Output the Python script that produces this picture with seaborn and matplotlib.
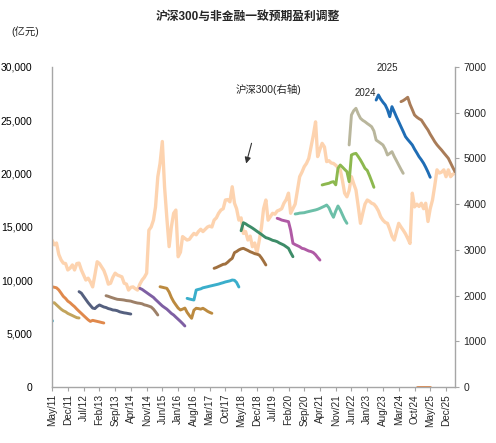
import numpy as np
import pandas as pd
import matplotlib
matplotlib.use('Agg')
import matplotlib.pyplot as plt
import matplotlib.dates as mdates
import seaborn as sns

sns.set_theme(style='white')
plt.rcParams['font.family'] = ['Liberation Sans', 'Noto Sans CJK SC', 'DejaVu Sans']

# 沪深300 monthly level, starting May 2011 (right axis)
hs300_start = '2011-05-01'
hs300 = [
    3215, 3110, 3150, 2900, 2780, 2710, 2700, 2560,                          # 2011
    2600, 2670, 2560, 2700, 2710, 2560, 2450, 2340, 2380, 2300, 2190, 2450,  # 2012
    2740, 2700, 2630, 2550, 2420, 2250, 2270, 2400, 2490, 2450, 2430, 2410,  # 2013
    2270, 2250, 2120, 2180, 2190, 2150, 2120, 2250, 2340, 2400, 2490, 3430,  # 2014
    3500, 3650, 3940, 4600, 4890, 5370, 4380, 3700, 3070, 3500, 3800, 3870,  # 2015
    2850, 2950, 3290, 3250, 3215, 3230, 3300, 3360, 3330, 3400, 3450, 3400,  # 2016
    3450, 3500, 3520, 3500, 3650, 3700, 3800, 3870, 3900, 4090, 4100, 4050,  # 2017
    4380, 4020, 3900, 3650, 3700, 3360, 3400, 3215, 3300, 3070, 3150, 2925,  # 2018
    3200, 3500, 3900, 4090, 3650, 3725, 3800, 3780, 3850, 3870, 3900, 4020,  # 2019
    4100, 4240, 3800, 3900, 4000, 4300, 4600, 4700, 4820, 4890, 5000, 5250,  # 2020
    5500, 5800, 5040, 5200, 5330, 5250, 4930, 4950, 4900, 4890, 4850, 4800,  # 2021
    4750, 4500, 4240, 4160, 4300, 4600, 4450, 4310, 3950, 3580, 3800, 4000,  # 2022
    4090, 4060, 4020, 4000, 3940, 3850, 3725, 3650, 3600, 3580, 3450, 3300,  # 2023
    3215, 3400, 3580, 3500, 3430, 3350, 3250, 3140, 4240, 3940, 4000, 3950,  # 2024
    4020, 3900, 4020, 3620, 3900, 4090, 4400, 4750, 4680, 4700, 4750, 4600,  # 2025
    4750, 4600, 4650, 4680,                                                  # 2026
]

# 非金融一致预期盈利 (亿元) by forecast year: first month and monthly values
eps_2010_start, eps_2010 = '2011-05-01', [6250, 6190]
eps_2011_start = '2011-05-01'
eps_2011 = [7875, 7900, 7700, 7500, 7300, 7150, 7050, 6900, 6800, 6700, 6600, 6500, 6470]
eps_2012_start = '2011-05-01'
eps_2012 = [9400, 9350, 9300, 9100, 8800, 8500, 8300, 8050, 7900, 7700, 7530, 7300,
            7100, 6900, 6700, 6500, 6300, 6150, 6250, 6200, 6150, 6100, 6050, 6000]
eps_2013_start = '2012-05-01'
eps_2013 = [8940, 8800, 8500, 8200, 7900, 7650, 7400, 7350, 7550, 7690, 7600, 7500,
            7450, 7350, 7300, 7220, 7200, 7150, 7050, 7000, 6950, 6920, 6880, 6840]
eps_2014_start = '2013-05-01'
eps_2014 = [8560, 8500, 8420, 8350, 8280, 8220, 8200, 8180, 8150, 8100, 8080, 8050,
            7980, 7920, 7870, 7845, 7800, 7700, 7650, 7580, 7500, 7300, 7050, 6750]
eps_2015_start = '2014-08-01'
eps_2015 = [9250, 9150, 9000, 8850, 8700, 8550, 8400, 8200, 8000, 7800, 7600, 7450,
            7300, 7100, 6900, 6750, 6550, 6350, 6150, 5950, 5720]
eps_2016_start = '2015-05-01'
eps_2016 = [9400, 9350, 9300, 9250, 8900, 8400, 8000, 7700, 7400, 7220, 7300, 7400,
            7000, 6700, 6440, 7200, 7380, 7350, 7300, 7380, 7250, 7100, 7000, 6910]
eps_2017_start = '2016-05-01'
eps_2017 = [8310, 8250, 8200, 8156, 9090, 9150, 9200, 9300, 9350, 9400, 9450, 9500,
            9550, 9600, 9650, 9720, 9780, 9850, 9900, 9950, 10030, 10000, 9800, 9375]
eps_2018_start = '2017-05-01'
eps_2018 = [11125, 11200, 11300, 11400, 11500, 11530, 11700, 11900, 12060, 12600, 12700, 12850,
            12950, 13000, 12900, 12800, 12680, 12600, 12500, 12450, 12375, 12100, 11800, 11440]
eps_2019_start = '2018-05-01'
eps_2019 = [14650, 15400, 15300, 15150, 15030, 14900, 14750, 14600, 14450, 14300, 14150, 14000,
            13940, 13850, 13750, 13700, 13625, 13500, 13400, 13300, 13150, 13000, 12600, 12215]
eps_2020_start = '2019-09-01'
eps_2020 = [15815, 15750, 15650, 15600, 15550, 15500, 14700, 13470, 13350, 13250, 13150, 13000,
            12950, 12850, 12750, 12700, 12600, 12400, 12150, 11900]
eps_2021_start = '2020-05-01'
eps_2021 = [16220, 16250, 16300, 16320, 16340, 16400, 16450, 16500, 16550, 16600, 16660, 16750,
            16850, 16950, 17060, 16800, 16300, 15910, 16500, 16970, 16600, 16125, 15700, 15345]
eps_2022_start = '2021-05-01'
eps_2022 = [18940, 19000, 19050, 19100, 19200, 19250, 18950, 20500, 20810, 20600, 20400, 20190,
            19250, 21750, 21850, 21900, 21600, 21280, 20900, 20500, 20300, 19800, 19300, 18720]
eps_2023_start = '2022-05-01'
eps_2023 = [22690, 25500, 25900, 26125, 25600, 25190, 25000, 24870, 24700, 24550, 24400, 24000,
            23150, 23000, 22850, 22690, 22300, 21750, 21900, 22060, 21600, 21200, 20810, 20400, 20030]
eps_2024_start = '2023-05-01'
eps_2024 = [26900, 27375, 27000, 26700, 26440, 26000, 25340, 26280, 25800, 25300, 24870, 24400,
            23950, 23470, 23200, 22950, 22690, 22300, 21950, 21590, 21300, 20970, 20600, 20150, 19660]
eps_2025_start = '2024-04-01'
eps_2025 = [26750, 26850, 27000, 27160, 26500, 26000, 25500, 25300, 25150, 25030, 24700, 24400,
            24090, 23700, 23350, 23000, 22700, 22450, 22220, 21950, 21700, 21440, 21000, 20600, 20190]
eps_2026_start = '2024-11-01'
eps_2026 = [0, 0, 0, 0, 0, 0, 0]

years = ['2010', '2011', '2012', '2013', '2014', '2015', '2016', '2017', '2018',
         '2019', '2020', '2021', '2022', '2023', '2024', '2025', '2026']
colors = ['#4BACC6', '#C2A45C', '#E0894C', '#55607F', '#9D8068', '#7E5FA3', '#BC8A3F',
          '#3AAECB', '#A0703F', '#3D8C68', '#B05AA5', '#6CBFA8', '#8DB84F', '#B9B69C',
          '#1F6DB5', '#A97C58', '#E0894C']

segments = [
    (eps_2010_start, eps_2010), (eps_2011_start, eps_2011), (eps_2012_start, eps_2012),
    (eps_2013_start, eps_2013), (eps_2014_start, eps_2014), (eps_2015_start, eps_2015),
    (eps_2016_start, eps_2016), (eps_2017_start, eps_2017), (eps_2018_start, eps_2018),
    (eps_2019_start, eps_2019), (eps_2020_start, eps_2020), (eps_2021_start, eps_2021),
    (eps_2022_start, eps_2022), (eps_2023_start, eps_2023), (eps_2024_start, eps_2024),
    (eps_2025_start, eps_2025), (eps_2026_start, eps_2026),
]

frames = []
for yr, (start, vals) in zip(years, segments):
    if yr == '2010':
        dates = pd.date_range(start, periods=len(vals), freq='7D')
    else:
        dates = pd.date_range(start, periods=len(vals), freq='MS')
    frames.append(pd.DataFrame({'date': dates, 'value': vals, 'year': yr}))
eps = pd.concat(frames, ignore_index=True)

hs = pd.DataFrame({'date': pd.date_range(hs300_start, periods=len(hs300), freq='MS'),
                   'value': hs300})

fig = plt.figure(figsize=(4.96, 4.43), dpi=100)
ax = fig.add_axes([0.1048, 0.1264, 0.8125, 0.7224])
ax2 = ax.twinx()

# index on the right axis, drawn behind the earnings lines
sns.lineplot(data=hs, x='date', y='value', color='#FDD3AF', linewidth=2.4, ax=ax2)
sns.lineplot(data=eps, x='date', y='value', hue='year', palette=dict(zip(years, colors)),
             linewidth=2.1, legend=False, ax=ax)
ax.set_zorder(ax2.get_zorder() + 1)
ax.patch.set_visible(False)

ax.set_xlim(pd.Timestamp('2011-05-01'), pd.Timestamp('2026-04-01'))
ax.set_ylim(0, 30000)
ax2.set_ylim(0, 7000)
ax.set_yticks(range(0, 30001, 5000))
ax.set_yticklabels([f'{v:,}' for v in range(0, 30001, 5000)], fontsize=7.5)
ax2.set_yticks(range(0, 7001, 1000))
ax2.set_yticklabels([str(v) for v in range(0, 7001, 1000)], fontsize=7.5)

xt = pd.date_range('2011-05-01', '2025-12-01', freq='7MS')
ax.set_xticks(xt)
ax.set_xticklabels([d.strftime('%b/%y') for d in xt], rotation=90, fontsize=7.2)
ax.set_xlabel('')
ax.set_ylabel('')
ax2.set_xlabel('')
ax2.set_ylabel('')

for a in (ax, ax2):
    for s in a.spines.values():
        s.set_visible(False)
ax.spines['left'].set_visible(True)
ax.spines['bottom'].set_visible(True)
ax2.spines['right'].set_visible(True)
for s in (ax.spines['left'], ax.spines['bottom'], ax2.spines['right']):
    s.set_color('#A6A6A6')
    s.set_linewidth(1.0)

ax.tick_params(axis='y', left=False, pad=8, colors='black')
ax.tick_params(axis='x', bottom=True, length=3, width=0.8, color='#A6A6A6', pad=2)
ax2.tick_params(axis='y', right=True, length=3, width=0.8, color='#A6A6A6', pad=3)

fig.text(0.5, 0.962, '沪深300与非金融一致预期盈利调整', ha='center', va='center',
         fontsize=8.5, fontweight='bold')
fig.text(0.022, 0.928, '(亿元)', ha='left', va='center', fontsize=7.5)

ax.text(0.455, 0.93, '沪深300(右轴)', transform=ax.transAxes, fontsize=7.5,
        ha='left', va='center')
ax.annotate('', xy=(0.48, 0.69), xytext=(0.497, 0.77), xycoords='axes fraction',
            arrowprops=dict(arrowstyle='-|>', color='#333333', lw=0.8, mutation_scale=9))
ax.text(0.752, 0.92, '2024', transform=ax.transAxes, fontsize=7, ha='left', va='center')
ax.text(0.806, 0.997, '2025', transform=ax.transAxes, fontsize=7, ha='left', va='center')

fig.savefig('out.png', dpi=100)
